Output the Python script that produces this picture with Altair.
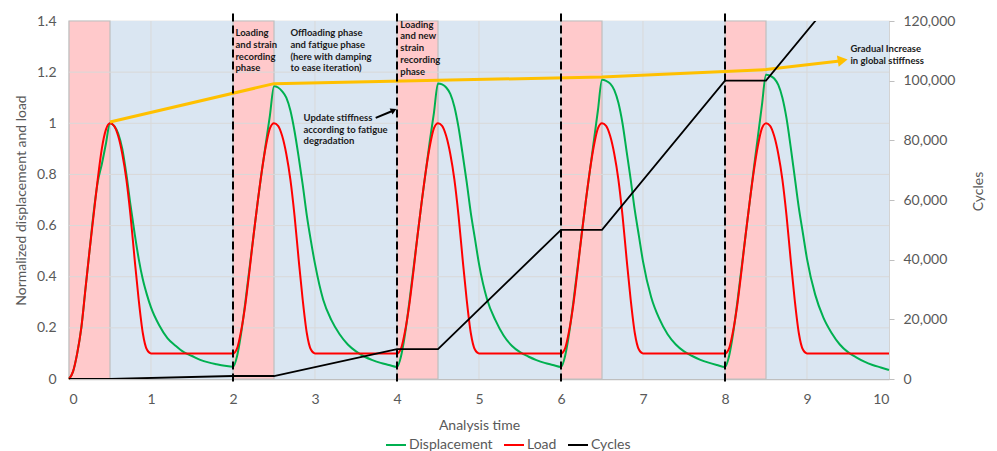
import altair as alt
import pandas as pd

# ---------------- data ----------------
X_TICKS = [0, 1, 2, 3, 4, 5, 6, 7, 8, 9, 10]
Y_TICKS = [0, 0.2, 0.4, 0.6, 0.8, 1.0, 1.2, 1.4]
CYC_TICKS = [0, 20000, 40000, 60000, 80000, 100000, 120000]

LOAD_PHASE_START = [0, 2, 4, 6, 8]
LOAD_PHASE_END = [0.5, 2.5, 4.5, 6.5, 8.5]
OFF_PHASE_START = [0.5, 2.5, 4.5, 6.5, 8.5]
OFF_PHASE_END = [2, 4, 6, 8, 10]
UPDATE_TIMES = [2, 4, 6, 8]

CYCLE_STARTS = [0, 2, 4, 6, 8]

# Load (red): relative time within each 2-unit cycle
LOAD_REL_T = [0, 0.05, 0.1, 0.15, 0.2, 0.25, 0.3, 0.35, 0.4, 0.45, 0.5,
              0.55, 0.6, 0.65, 0.7, 0.75, 0.8, 0.85, 0.9, 0.95, 1.0]
LOAD_VALUES = [
    [0, 0.03, 0.1, 0.2, 0.35, 0.5, 0.64, 0.78, 0.9, 0.975, 1.0,
     0.99, 0.95, 0.88, 0.78, 0.64, 0.47, 0.31, 0.18, 0.115, 0.1],
    [0.1, 0.12, 0.19, 0.29, 0.42, 0.56, 0.69, 0.81, 0.91, 0.98, 1.0,
     0.99, 0.95, 0.88, 0.78, 0.64, 0.47, 0.31, 0.18, 0.115, 0.1],
    [0.1, 0.12, 0.19, 0.29, 0.42, 0.56, 0.69, 0.81, 0.91, 0.98, 1.0,
     0.99, 0.95, 0.88, 0.78, 0.64, 0.47, 0.31, 0.18, 0.115, 0.1],
    [0.1, 0.12, 0.19, 0.29, 0.42, 0.56, 0.69, 0.81, 0.91, 0.98, 1.0,
     0.99, 0.95, 0.88, 0.78, 0.64, 0.47, 0.31, 0.18, 0.115, 0.1],
    [0.1, 0.12, 0.19, 0.29, 0.42, 0.56, 0.69, 0.81, 0.91, 0.98, 1.0,
     0.99, 0.95, 0.88, 0.78, 0.64, 0.47, 0.31, 0.18, 0.115, 0.1],
]
LOAD_END = [10, 0.1]

# Displacement (green)
DISP_REL_T = [0, 0.05, 0.1, 0.15, 0.2, 0.25, 0.3, 0.35, 0.4, 0.45, 0.5,
              0.55, 0.6, 0.65, 0.7, 0.75, 0.8, 0.85, 0.9, 0.95, 1.0,
              1.1, 1.2, 1.3, 1.4, 1.5, 1.6, 1.7, 1.8, 1.9]
DISP_VALUES = [
    [0, 0.03, 0.1, 0.2, 0.35, 0.5, 0.65, 0.77, 0.84, 0.92, 1.0,
     0.99, 0.96, 0.9, 0.8, 0.68, 0.57, 0.47, 0.39, 0.33, 0.28,
     0.21, 0.16, 0.13, 0.105, 0.09, 0.075, 0.065, 0.058, 0.052],
    [0.048, 0.09, 0.18, 0.3, 0.43, 0.56, 0.69, 0.81, 0.92, 1.03, 1.145,
     1.14, 1.125, 1.1, 1.05, 0.97, 0.87, 0.76, 0.64, 0.54, 0.45,
     0.31, 0.23, 0.175, 0.135, 0.108, 0.088, 0.074, 0.063, 0.055],
    [0.047, 0.09, 0.18, 0.3, 0.43, 0.56, 0.69, 0.81, 0.93, 1.04, 1.156,
     1.152, 1.14, 1.115, 1.065, 0.985, 0.88, 0.77, 0.65, 0.55, 0.45,
     0.31, 0.23, 0.17, 0.13, 0.105, 0.088, 0.074, 0.063, 0.055],
    [0.047, 0.09, 0.18, 0.3, 0.43, 0.56, 0.69, 0.81, 0.93, 1.05, 1.17,
     1.166, 1.155, 1.13, 1.08, 1.0, 0.89, 0.78, 0.66, 0.56, 0.46,
     0.32, 0.235, 0.175, 0.135, 0.108, 0.09, 0.075, 0.064, 0.055],
    [0.047, 0.09, 0.18, 0.3, 0.43, 0.56, 0.69, 0.82, 0.945, 1.07, 1.19,
     1.186, 1.175, 1.15, 1.1, 1.02, 0.91, 0.79, 0.67, 0.57, 0.47,
     0.33, 0.24, 0.18, 0.135, 0.105, 0.085, 0.068, 0.055, 0.045],
]
DISP_END = [10, 0.035]

# Cycles (black, right axis)
CYC_T = [0, 0.5, 2, 2.5, 4, 4.5, 6, 6.5, 8, 8.5, 10]
CYC_V = [0, 0, 1000, 1000, 10000, 10000, 50000, 50000, 100000, 100000, 150000]

# Global stiffness trend (yellow)
STIFF_T = [0.5, 2.5, 4.5, 6.5, 8.5, 9.4]
STIFF_V = [1.005, 1.155, 1.168, 1.181, 1.21, 1.244]
STIFF_HEAD = [9.435, 1.246]

# "Update stiffness" arrow
UPD_ARROW_T = [3.74, 3.95]
UPD_ARROW_V = [1.021, 1.049]
UPD_HEAD = [3.96, 1.051]

ANNOT_TEXT = [
    "Loading\nand strain\nrecording\nphase",
    "Offloading phase\nand fatigue phase\n(here with damping\nto ease iteration)",
    "Update stiffness\naccording to fatigue\ndegradation",
    "Loading\nand new\nstrain\nrecording\nphase",
    "Gradual Increase\nin global stiffness",
]
ANNOT_X = [2.03, 2.70, 2.86, 4.04, 9.53]
ANNOT_Y = [1.372, 1.372, 1.04, 1.405, 1.31]

SERIES = ["Displacement", "Load", "Cycles"]
SERIES_COLORS = ["#00B050", "#FF0000", "#000000"]

# ---------------- tables ----------------
load_rows = []
for s, vals in zip(CYCLE_STARTS, LOAD_VALUES):
    for t, v in zip(LOAD_REL_T, vals):
        load_rows.append({"t": s + t, "v": v, "series": "Load"})
load_rows.append({"t": LOAD_END[0], "v": LOAD_END[1], "series": "Load"})
load_df = pd.DataFrame(load_rows)

disp_rows = []
for s, vals in zip(CYCLE_STARTS, DISP_VALUES):
    for t, v in zip(DISP_REL_T, vals):
        disp_rows.append({"t": s + t, "v": v, "series": "Displacement"})
disp_rows.append({"t": DISP_END[0], "v": DISP_END[1], "series": "Displacement"})
disp_df = pd.DataFrame(disp_rows)

cyc_df = pd.DataFrame({"t": CYC_T, "v": CYC_V, "series": "Cycles"})
stiff_df = pd.DataFrame({"t": STIFF_T, "v": STIFF_V})
stiff_head_df = pd.DataFrame({"t": [STIFF_HEAD[0]], "v": [STIFF_HEAD[1]]})
upd_df = pd.DataFrame({"t": UPD_ARROW_T, "v": UPD_ARROW_V})
upd_head_df = pd.DataFrame({"t": [UPD_HEAD[0]], "v": [UPD_HEAD[1]]})
pink_df = pd.DataFrame({"a": LOAD_PHASE_START, "b": LOAD_PHASE_END})
blue_df = pd.DataFrame({"a": OFF_PHASE_START, "b": OFF_PHASE_END})
upd_lines_df = pd.DataFrame({"t": UPDATE_TIMES})
vgrid_df = pd.DataFrame({"t": X_TICKS[1:-1]})
hgrid_df = pd.DataFrame({"v": Y_TICKS[1:-1]})
annot_df = pd.DataFrame({"text": ANNOT_TEXT, "t": ANNOT_X, "v": ANNOT_Y})

# ---------------- encodings ----------------
FONT = "Lato"
GREY = "#595959"

XSCALE = alt.Scale(domain=[0, 10], nice=False, zero=False)
XAXIS = alt.Axis(values=X_TICKS, title="Analysis time", grid=False, ticks=False,
                 domainColor="#BFBFBF", domainWidth=1.5, labelPadding=13,
                 titlePadding=12, labelExpr="format(datum.value, 'd')")
YSCALE = alt.Scale(domain=[0, 1.4], nice=False)
YAXIS = alt.Axis(values=Y_TICKS, title="Normalized displacement and load",
                 grid=False, ticks=False, domain=False, labelPadding=13,
                 titlePadding=8, labelExpr="format(datum.value, '.1~f')")
CSCALE = alt.Scale(domain=[0, 120000], nice=False)
CAXIS = alt.Axis(values=CYC_TICKS, title="Cycles", orient="right", grid=False,
                 ticks=True, tickSize=5, tickColor="#BFBFBF", domain=False,
                 labelPadding=9, titlePadding=31, titleAngle=270, titleY=170,
                 labelExpr="format(datum.value, ',')")
COLOR = alt.Color("series:N", scale=alt.Scale(domain=SERIES, range=SERIES_COLORS),
                  legend=alt.Legend(title=None, orient="none", direction="horizontal",
                                    legendX=316, legendY=413, symbolType="stroke",
                                    symbolSize=400, symbolStrokeWidth=2,
                                    labelFontSize=14, labelColor=GREY, labelFont=FONT,
                                    labelOffset=2, columnPadding=7))


def X(field):
    return alt.X(field, type="quantitative", scale=XSCALE, axis=XAXIS)


def Y(field):
    return alt.Y(field, type="quantitative", scale=YSCALE, axis=YAXIS)


pink = alt.Chart(pink_df).mark_rect(color="#FFC9CB", stroke="#BFBFBF", strokeWidth=1.2).encode(
    x=X("a"), x2="b", y=alt.Y(datum=0, scale=YSCALE, axis=YAXIS), y2=alt.Y2(datum=1.4))
blue = alt.Chart(blue_df).mark_rect(color="#DAE6F2").encode(
    x=X("a"), x2="b", y=alt.Y(datum=0, scale=YSCALE, axis=YAXIS), y2=alt.Y2(datum=1.4))
vgrid = alt.Chart(vgrid_df).mark_rule(color="#D9D9D9", strokeWidth=1).encode(
    x=X("t"), y=alt.Y(datum=0, scale=YSCALE, axis=YAXIS), y2=alt.Y2(datum=1.4))
hgrid = alt.Chart(hgrid_df).mark_rule(color="#D9D9D9", strokeWidth=1).encode(
    y=Y("v"), x=alt.X(datum=0, scale=XSCALE, axis=XAXIS), x2=alt.X2(datum=10))
dashed = alt.Chart(upd_lines_df).mark_rule(color="#000000", strokeWidth=2, strokeDash=[8, 4]).encode(
    x=X("t"), y=alt.Y(datum=-0.01, scale=YSCALE, axis=YAXIS), y2=alt.Y2(datum=1.445))

load = alt.Chart(load_df).mark_line(strokeWidth=2, interpolate="monotone").encode(
    x=X("t"), y=Y("v"), color=COLOR)
disp = alt.Chart(disp_df).mark_line(strokeWidth=2, interpolate="monotone").encode(
    x=X("t"), y=Y("v"), color=COLOR)

stiff = alt.Chart(stiff_df).mark_line(color="#FFC000", strokeWidth=3).encode(x=X("t"), y=Y("v"))
stiff_head = alt.Chart(stiff_head_df).mark_point(
    shape="triangle-right", filled=True, color="#FFC000", size=130, angle=351, opacity=1
).encode(x=X("t"), y=Y("v"))
upd = alt.Chart(upd_df).mark_line(color="#000000", strokeWidth=2).encode(x=X("t"), y=Y("v"))
upd_head = alt.Chart(upd_head_df).mark_point(
    shape="triangle-right", filled=True, color="#000000", size=45, angle=335, opacity=1
).encode(x=X("t"), y=Y("v"))

annots = alt.Chart(annot_df).mark_text(
    align="left", baseline="top", lineBreak="\n", font=FONT, fontWeight="bold",
    fontSize=9.5, lineHeight=11.7, color="#1a1a1a"
).encode(x=X("t"), y=Y("v"), text="text:N")

left = alt.layer(blue, pink, vgrid, hgrid, disp, load, stiff, stiff_head,
                 dashed, upd, upd_head, annots)

cycles = alt.Chart(cyc_df).mark_line(strokeWidth=1.8, clip=True).encode(
    x=X("t"), y=alt.Y("v:Q", scale=CSCALE, axis=CAXIS), color=COLOR)

chart = alt.layer(left, cycles).resolve_scale(y="independent").properties(
    width=820, height=358,
    autosize=alt.AutoSizeParams(type="none"),
    padding={"left": 61, "top": 13, "right": 100, "bottom": 72},
).configure_view(stroke="#CFCFCF", strokeWidth=1.2).configure_axis(
    labelFont=FONT, labelFontSize=14, labelColor=GREY,
    titleFont=FONT, titleFontSize=14, titleColor=GREY, titleFontWeight="normal"
)

chart.save("out.html", embed_options={"renderer": "svg", "actions": False})
